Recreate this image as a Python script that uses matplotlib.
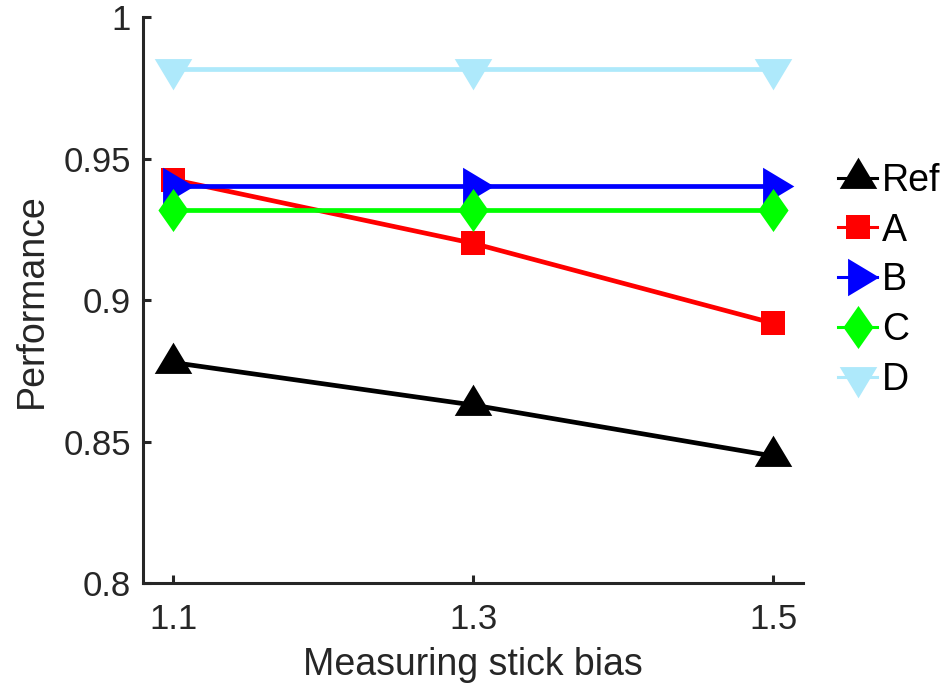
import matplotlib
matplotlib.use("Agg")
import matplotlib.pyplot as plt

plt.rcParams["font.family"] = ["Liberation Sans", "DejaVu Sans"]

bias = [1.1, 1.3, 1.5]
labels = ["Ref", "A", "B", "C", "D"]
perf_ref = [0.878, 0.863, 0.845]
perf_a = [0.9426, 0.9201, 0.8919]
perf_b = [0.9403, 0.9403, 0.9403]
perf_c = [0.9318, 0.9318, 0.9318]
perf_d = [0.9816, 0.9816, 0.9816]

# triangle shapes centred on their centroid, like the original
tri_up = [(0, 1), (-0.9, -0.5), (0.9, -0.5), (0, 1)]
tri_down = [(0, -1), (-0.9, 0.5), (0.9, 0.5), (0, -1)]
tri_right = [(1, 0), (-0.5, 0.9), (-0.5, -0.9), (1, 0)]
diamond = [(0, 1), (0.7, 0), (0, -1), (-0.7, 0), (0, 1)]

styles = [
    (perf_ref, "black", tri_up, 30),
    (perf_a, "#ff0000", "s", 17),
    (perf_b, "#0000ff", tri_right, 30),
    (perf_c, "#00ff00", diamond, 31),
    (perf_d, "#aee9fb", tri_down, 30),
]

fig = plt.figure(figsize=(9.47, 6.84), dpi=100)
ax = fig.add_axes([0.1515, 0.147, 0.6965, 0.828])

for (vals, color, marker, ms), lab in zip(styles, labels):
    ax.plot(bias, vals, color=color, lw=3.4, marker=marker, ms=ms,
            mfc=color, mec=color, mew=0, label=lab)

ax.set_xlim(1.08, 1.52)
ax.set_ylim(0.8, 1.0)
ax.set_xticks(bias)
ax.set_xticklabels(["1.1", "1.3", "1.5"])
ax.set_yticks([0.8, 0.85, 0.9, 0.95, 1.0])
ax.set_yticklabels(["0.8", "0.85", "0.9", "0.95", "1"])

dark = "#262626"
for side in ["top", "right"]:
    ax.spines[side].set_visible(False)
for side in ["left", "bottom"]:
    ax.spines[side].set_linewidth(2.2)
    ax.spines[side].set_color(dark)
ax.tick_params(direction="in", length=6, width=2.2, color=dark,
               labelcolor=dark, labelsize=25)
ax.tick_params(axis="y", pad=9)
ax.tick_params(axis="x", pad=14)

ax.set_xlabel("Measuring stick bias", fontsize=27, color=dark, labelpad=8)
ax.set_ylabel("Performance", fontsize=27, color=dark, labelpad=10)

leg = ax.legend(loc="center left", bbox_to_anchor=(0.885, 0.59),
                bbox_transform=fig.transFigure, frameon=False, fontsize=27,
                handlelength=1.05, handletextpad=0.12, borderpad=0,
                borderaxespad=0, labelspacing=0.37, numpoints=1)
for h in leg.get_lines():
    h.set_linewidth(2.2)

fig.savefig("out.png", dpi=100)
